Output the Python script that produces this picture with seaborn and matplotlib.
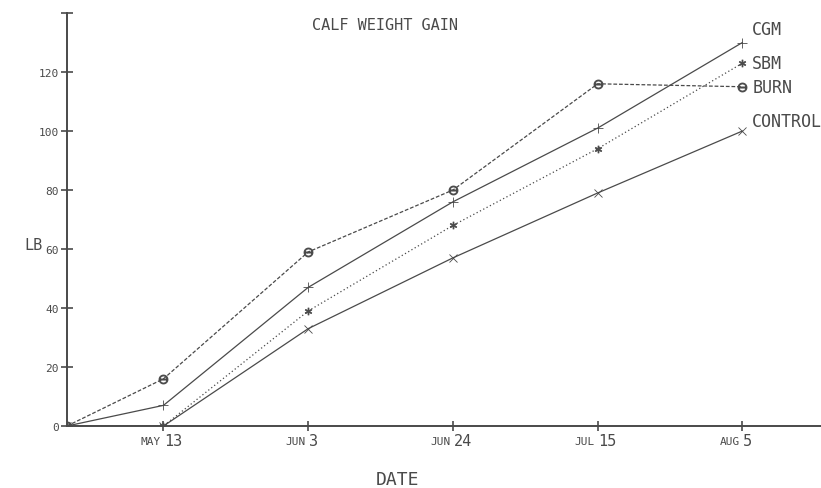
import pandas as pd
import seaborn as sns
import matplotlib.pyplot as plt
from matplotlib.transforms import blended_transform_factory

# weighing dates (days after the start, Apr 29)
months = ["", "MAY", "JUN", "JUN", "JUL", "AUG"]
day_nums = ["", "13", "3", "24", "15", "5"]
days = [0, 14, 35, 56, 77, 98]

# weight gain, lb
burn = [0, 16, 59, 80, 116, 115]
cgm = [0, 7, 47, 76, 101, 130]
sbm = [0, 0, 39, 68, 94, 123]
control = [0, 0, 33, 57, 79, 100]

series = ["CGM", "SBM", "BURN", "CONTROL"]
values = [cgm, sbm, burn, control]

df = pd.concat([pd.DataFrame({"day": days, "gain": v, "ration": s})
                for s, v in zip(series, values)])

sns.set_style("white")
plt.rcParams['font.family'] = ['DejaVu Sans Mono', 'DejaVu Sans']
ink = "#4a4a4a"

fig = plt.figure(figsize=(8.21, 4.89), dpi=100)
ax = fig.add_axes([67/821, 62/489, (821-67)/821, (427-14)/489])

styles = {
    "CGM": dict(linestyle="-", marker="+", markersize=7),
    "SBM": dict(linestyle=(0, (1, 2)), marker="$\\ast$", markersize=5),
    "BURN": dict(linestyle=(0, (3, 1.5)), marker="$\\ominus$", markersize=6.5),
    "CONTROL": dict(linestyle="-", marker="x", markersize=6),
}
for s in series:
    sub = df[df["ration"] == s]
    sns.lineplot(data=sub, x="day", y="gain", ax=ax, color=ink, linewidth=0.9,
                 markeredgewidth=0.6, markeredgecolor=ink, markerfacecolor=ink,
                 **styles[s])

# labels at line ends
offsets = {"CGM": (7, 10), "SBM": (7, 0), "BURN": (7, 0), "CONTROL": (7, 7)}
for s in series:
    sub = df[df["ration"] == s]
    ax.annotate(s, (sub["day"].iloc[-1], sub["gain"].iloc[-1]),
                xytext=offsets[s], textcoords="offset points",
                ha="left", va="center", fontsize=12, color=ink)

ax.set_xlim(0, 109.4)
ax.set_ylim(0, 140)
sns.despine(ax=ax)
for side in ["left", "bottom"]:
    ax.spines[side].set_color(ink)
    ax.spines[side].set_linewidth(1.4)

ax.set_yticks(range(0, 141, 20))
ax.set_yticklabels([str(v) for v in range(0, 121, 20)] + [""])
ax.tick_params(axis="y", direction="inout", length=8, width=1.2, colors=ink,
               labelsize=8, pad=2, left=True)
ax.set_xticks(days[1:])
ax.set_xticklabels([])
ax.tick_params(axis="x", direction="inout", length=7, width=1.2, colors=ink,
               bottom=True)

trans = blended_transform_factory(ax.transData, ax.transAxes)
for d, m, n in zip(days[1:], months[1:], day_nums[1:]):
    ax.text(d - 0.4, -0.025, m, transform=trans, ha="right", va="top",
            fontsize=8, color=ink)
    ax.text(d + 0.1, -0.018, n, transform=trans, ha="left", va="top",
            fontsize=11, color=ink)

ax.set_xlabel("")
ax.set_ylabel("")
fig.text(312/821, 1 - 25/489, "CALF WEIGHT GAIN", ha="left", va="center",
         fontsize=11, color=ink)
fig.text(33/821, 1 - 245/489, "LB", ha="center", va="center", fontsize=11,
         color=ink)
fig.text(397/821, 1 - 480/489, "DATE", ha="center", va="center", fontsize=13,
         color=ink)

fig.savefig("out.png", dpi=100)
